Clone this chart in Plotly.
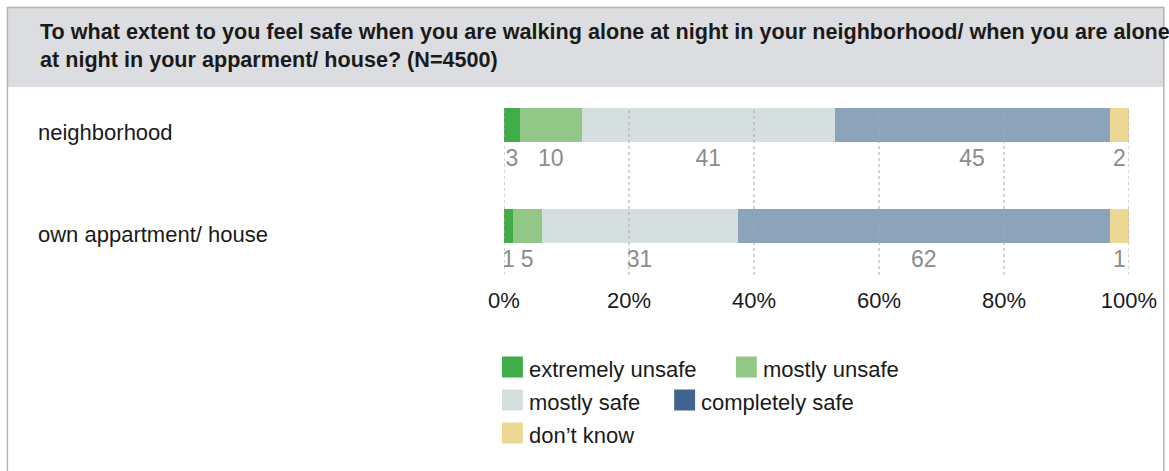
import plotly.graph_objects as go

# ---------------- data ----------------
categories = ["neighborhood", "own appartment/ house"]
series_names = ["extremely unsafe", "mostly unsafe", "mostly safe", "completely safe", "don\u2019t know"]
# bar shares (%) as drawn in the picture
neighborhood_share = [2.5, 10.0, 40.4, 44.0, 3.1]
own_home_share = [1.4, 4.6, 31.4, 59.5, 3.1]
# printed value labels
neighborhood_labels = [3, 10, 41, 45, 2]
own_home_labels = [1, 5, 31, 62, 1]
tick_values = [0, 20, 40, 60, 80, 100]
tick_labels = ["0%", "20%", "40%", "60%", "80%", "100%"]
title_line1 = "To what extent to you feel safe when you are walking alone at night in your neighborhood/ when you are alone"
title_line2 = "at night in your apparment/ house? (N=4500)"

# ---------------- style ----------------
bar_colors = ["#41ad49", "#93c787", "#d5dfe0", "#8ba3bb", "#ecd894"]
legend_colors = ["#41ad49", "#93c787", "#d5dfe0", "#41648e", "#ecd894"]
FONT = "Liberation Sans, Arial, sans-serif"

W, H = 1169, 471
L, R, T, B = 504, 37, 108, 196
PW, PH = W - L - R, H - T - B


def px(x):
    return (x - L) / PW


def py(y):
    return (H - B - y) / PH


shares = [neighborhood_share, own_home_share]
labels = [neighborhood_labels, own_home_labels]
ypos = list(range(len(categories)))

fig = go.Figure()
for s, name in enumerate(series_names):
    fig.add_trace(go.Bar(
        orientation="h",
        y=ypos,
        x=[shares[c][s] for c in ypos],
        width=0.337,
        marker=dict(color=bar_colors[s], line=dict(width=0)),
        name=name,
        showlegend=False,
        hoverinfo="skip",
    ))

# value labels centred under each segment
lx, ly, lt = [], [], []
for c in ypos:
    cum = 0
    for s in range(len(series_names)):
        lx.append(cum + shares[c][s] / 2)
        ly.append(c + 0.35)
        lt.append(str(labels[c][s]))
        cum += shares[c][s]
fig.add_trace(go.Scatter(
    x=lx, y=ly, text=lt, mode="text",
    textposition="middle center",
    textfont=dict(family=FONT, size=23, color="#8c8c8c"),
    showlegend=False, hoverinfo="skip",
))

shapes = []
# header band + outer frame
shapes.append(dict(type="rect", xref="paper", yref="paper",
                   x0=px(5), x1=px(1167), y0=py(87), y1=py(7.5),
                   line=dict(width=0), fillcolor="#dcdde0", layer="below"))
shapes.append(dict(type="rect", xref="paper", yref="paper",
                   x0=px(5), x1=px(1167), y0=py(495), y1=py(7.5),
                   line=dict(color="#b4b4b4", width=1.5), fillcolor="rgba(0,0,0,0)", layer="below"))
# dotted gridlines above bars
for v in tick_values:
    shapes.append(dict(type="line", xref="x", yref="paper", x0=v, x1=v, y0=0, y1=1,
                       line=dict(color="#a8a8a8", width=1, dash="dot"), layer="above"))

annotations = []
annotations.append(dict(text="<b>" + title_line1 + "</b>", xref="paper", yref="paper",
                        x=px(36), y=py(31), xanchor="left", yanchor="middle", showarrow=False,
                        font=dict(family=FONT, size=21.6, color="#1a1a1a")))
annotations.append(dict(text="<b>" + title_line2 + "</b>", xref="paper", yref="paper",
                        x=px(36), y=py(60), xanchor="left", yanchor="middle", showarrow=False,
                        font=dict(family=FONT, size=21.6, color="#1a1a1a")))
for c, cat in zip(ypos, categories):
    annotations.append(dict(text=cat, xref="paper", yref="y", x=px(34), y=c, yshift=-8,
                            xanchor="left", yanchor="middle", showarrow=False,
                            font=dict(family=FONT, size=22, color="#1a1a1a")))

# manual legend (legend colours differ from bar colours in the original)
legend_slots = [(502, 367), (737, 367), (502, 400), (675, 400), (502, 433)]
for (lxp, lyp), name, col in zip(legend_slots, series_names, legend_colors):
    shapes.append(dict(type="rect", xref="paper", yref="paper",
                       x0=px(lxp), x1=px(lxp + 21), y0=py(lyp + 10.5), y1=py(lyp - 10.5),
                       line=dict(width=0), fillcolor=col))
    annotations.append(dict(text=name, xref="paper", yref="paper", x=px(lxp + 25), y=py(lyp + 2),
                            xanchor="left", yanchor="middle", showarrow=False,
                            font=dict(family=FONT, size=22, color="#1a1a1a")))

fig.update_layout(
    width=W, height=H,
    margin=dict(l=L, r=R, t=T, b=B, pad=0),
    paper_bgcolor="white", plot_bgcolor="white",
    barmode="stack", bargap=0,
    showlegend=False,
    shapes=shapes, annotations=annotations,
    xaxis=dict(range=[0, 100], tickvals=tick_values, ticktext=tick_labels,
               showgrid=False, zeroline=False, showline=False, ticks="",
               ticklabelstandoff=10,
               tickfont=dict(family=FONT, size=22, color="#1a1a1a"), fixedrange=True),
    yaxis=dict(range=[1.485, -0.168], visible=False, fixedrange=True),
)

fig.write_html("out.html", config={"displayModeBar": False},
               post_script="document.body.style.margin='0px';")
